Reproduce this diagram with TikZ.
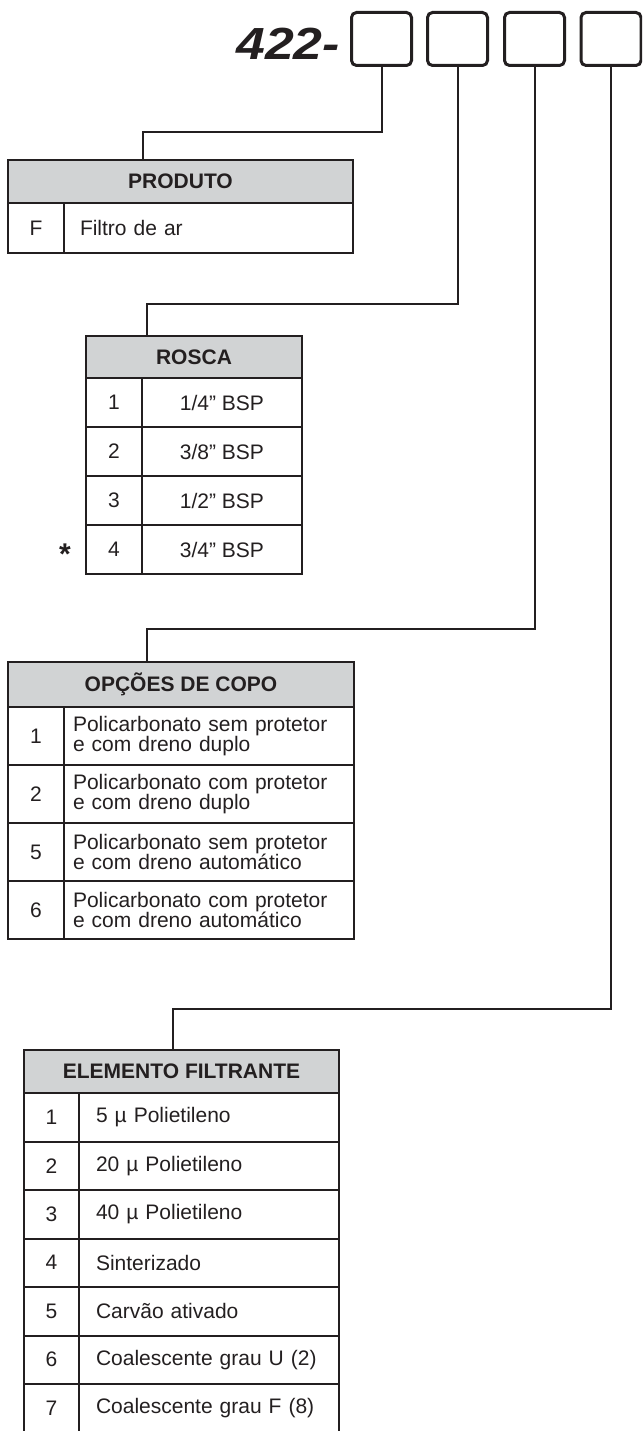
\documentclass[tikz,border=0pt]{standalone}
\usepackage{fontspec}
\setmainfont{Liberation Sans}
\definecolor{ink}{HTML}{231F20}
\definecolor{headgray}{HTML}{D1D3D4}

\begin{document}
\begin{tikzpicture}[x=1pt, y=-1pt, color=ink,
  codebox/.style={draw, rounded corners=5pt, line width=3pt,
                  minimum width=60pt, minimum height=53pt, inner sep=0pt},
  wire/.style={line width=2pt},
  cell/.style={draw, line width=2pt, inner sep=0pt, outer sep=0pt, anchor=north west,
               font=\fontsize{21}{18}\selectfont},
  headcell/.style={cell, fill=headgray, font=\fontsize{21}{18}\selectfont\bfseries},
  numcell/.style={cell, align=center},
  desccell/.style 2 args={cell, text width=#1, inner xsep=#2, align=left},
  midcell/.style={cell, align=center}]
  \clip (0,0) rectangle (642,1431);
  %--- code line ---
  \node[inner sep=0pt, anchor=base east, font=\fontsize{45}{45}\selectfont\bfseries\itshape]
    (code) at (340,60) {\scalebox{1.15}[1]{422-}};
  \node[codebox] (b1) at (381.5,39) {};
  \node[codebox] (b2) at (457.5,39) {};
  \node[codebox] (b3) at (534.5,39) {};
  \node[codebox] (b4) at (611,39) {};
  %--- PRODUTO ---
  \node[headcell, minimum width=345, minimum height=43] (prh) at (8,160) {PRODUTO};
  \node[numcell, minimum width=56, minimum height=50] (prn1) at (8,203) {F};
  \node[desccell={257pt}{16pt}, minimum height=50] (prd1) at (prn1.north east) {Filtro de ar};
  %--- ROSCA ---
  \node[headcell, minimum width=216, minimum height=42] (roh) at (86,336) {ROSCA};
  \foreach \n/\txt [count=\i] in {1/{1/4” BSP}, 2/{3/8” BSP}, 3/{1/2” BSP}, 4/{3/4” BSP}} {
    \node[numcell, minimum width=56, minimum height=49] (ron\i) at (86,{378+49*(\i-1)}) {\n};
    \node[midcell, minimum width=160, minimum height=49] (rod\i) at (ron\i.north east) {\txt};
  }
  \node[font=\fontsize{30}{30}\selectfont\bfseries] (star) at (65,554) {*};
  %--- OPCOES DE COPO ---
  \node[headcell, minimum width=346, minimum height=45] (oph) at (8,662) {OPÇÕES DE COPO};
  \foreach \n/\txt [count=\i] in {1/{Policarbonato sem protetor\\e com dreno duplo},
                                  2/{Policarbonato com protetor\\e com dreno duplo},
                                  5/{Policarbonato sem protetor\\e com dreno automático},
                                  6/{Policarbonato com protetor\\e com dreno automático}} {
    \node[numcell, minimum width=56, minimum height=58] (opn\i) at (8,{707+58*(\i-1)}) {\n};
    \node[desccell={272pt}{9pt}, minimum height=58] (opd\i) at (opn\i.north east) {\txt};
  }
  %--- ELEMENTO FILTRANTE ---
  \node[headcell, minimum width=315, minimum height=43] (elh) at (24,1050) {ELEMENTO FILTRANTE};
  \foreach \n/\txt [count=\i] in {1/{5 µ Polietileno}, 2/{20 µ Polietileno},
                                  3/{40 µ Polietileno}, 4/{Sinterizado},
                                  5/{Carvão ativado}, 6/{Coalescente grau U (2)},
                                  7/{Coalescente grau F (8)}} {
    \node[numcell, minimum width=55, minimum height=48.5] (eln\i) at (24,{1093+48.5*(\i-1)}) {\n};
    \node[desccell={226pt}{17pt}, minimum height=48.5] (eld\i) at (eln\i.north east) {\txt};
  }
  %--- connectors ---
  \coordinate (k1) at (143,132);
  \coordinate (k2) at (147,304);
  \coordinate (k3) at (147,629);
  \coordinate (k4) at (173,1009);
  \draw[wire] (b1.south) |- (k1) -- (k1 |- prh.north);
  \draw[wire] (b2.south) |- (k2) -- (k2 |- roh.north);
  \draw[wire] (b3.south) |- (k3) -- (k3 |- oph.north);
  \draw[wire] (b4.south) |- (k4) -- (k4 |- elh.north);
\end{tikzpicture}
\end{document}
